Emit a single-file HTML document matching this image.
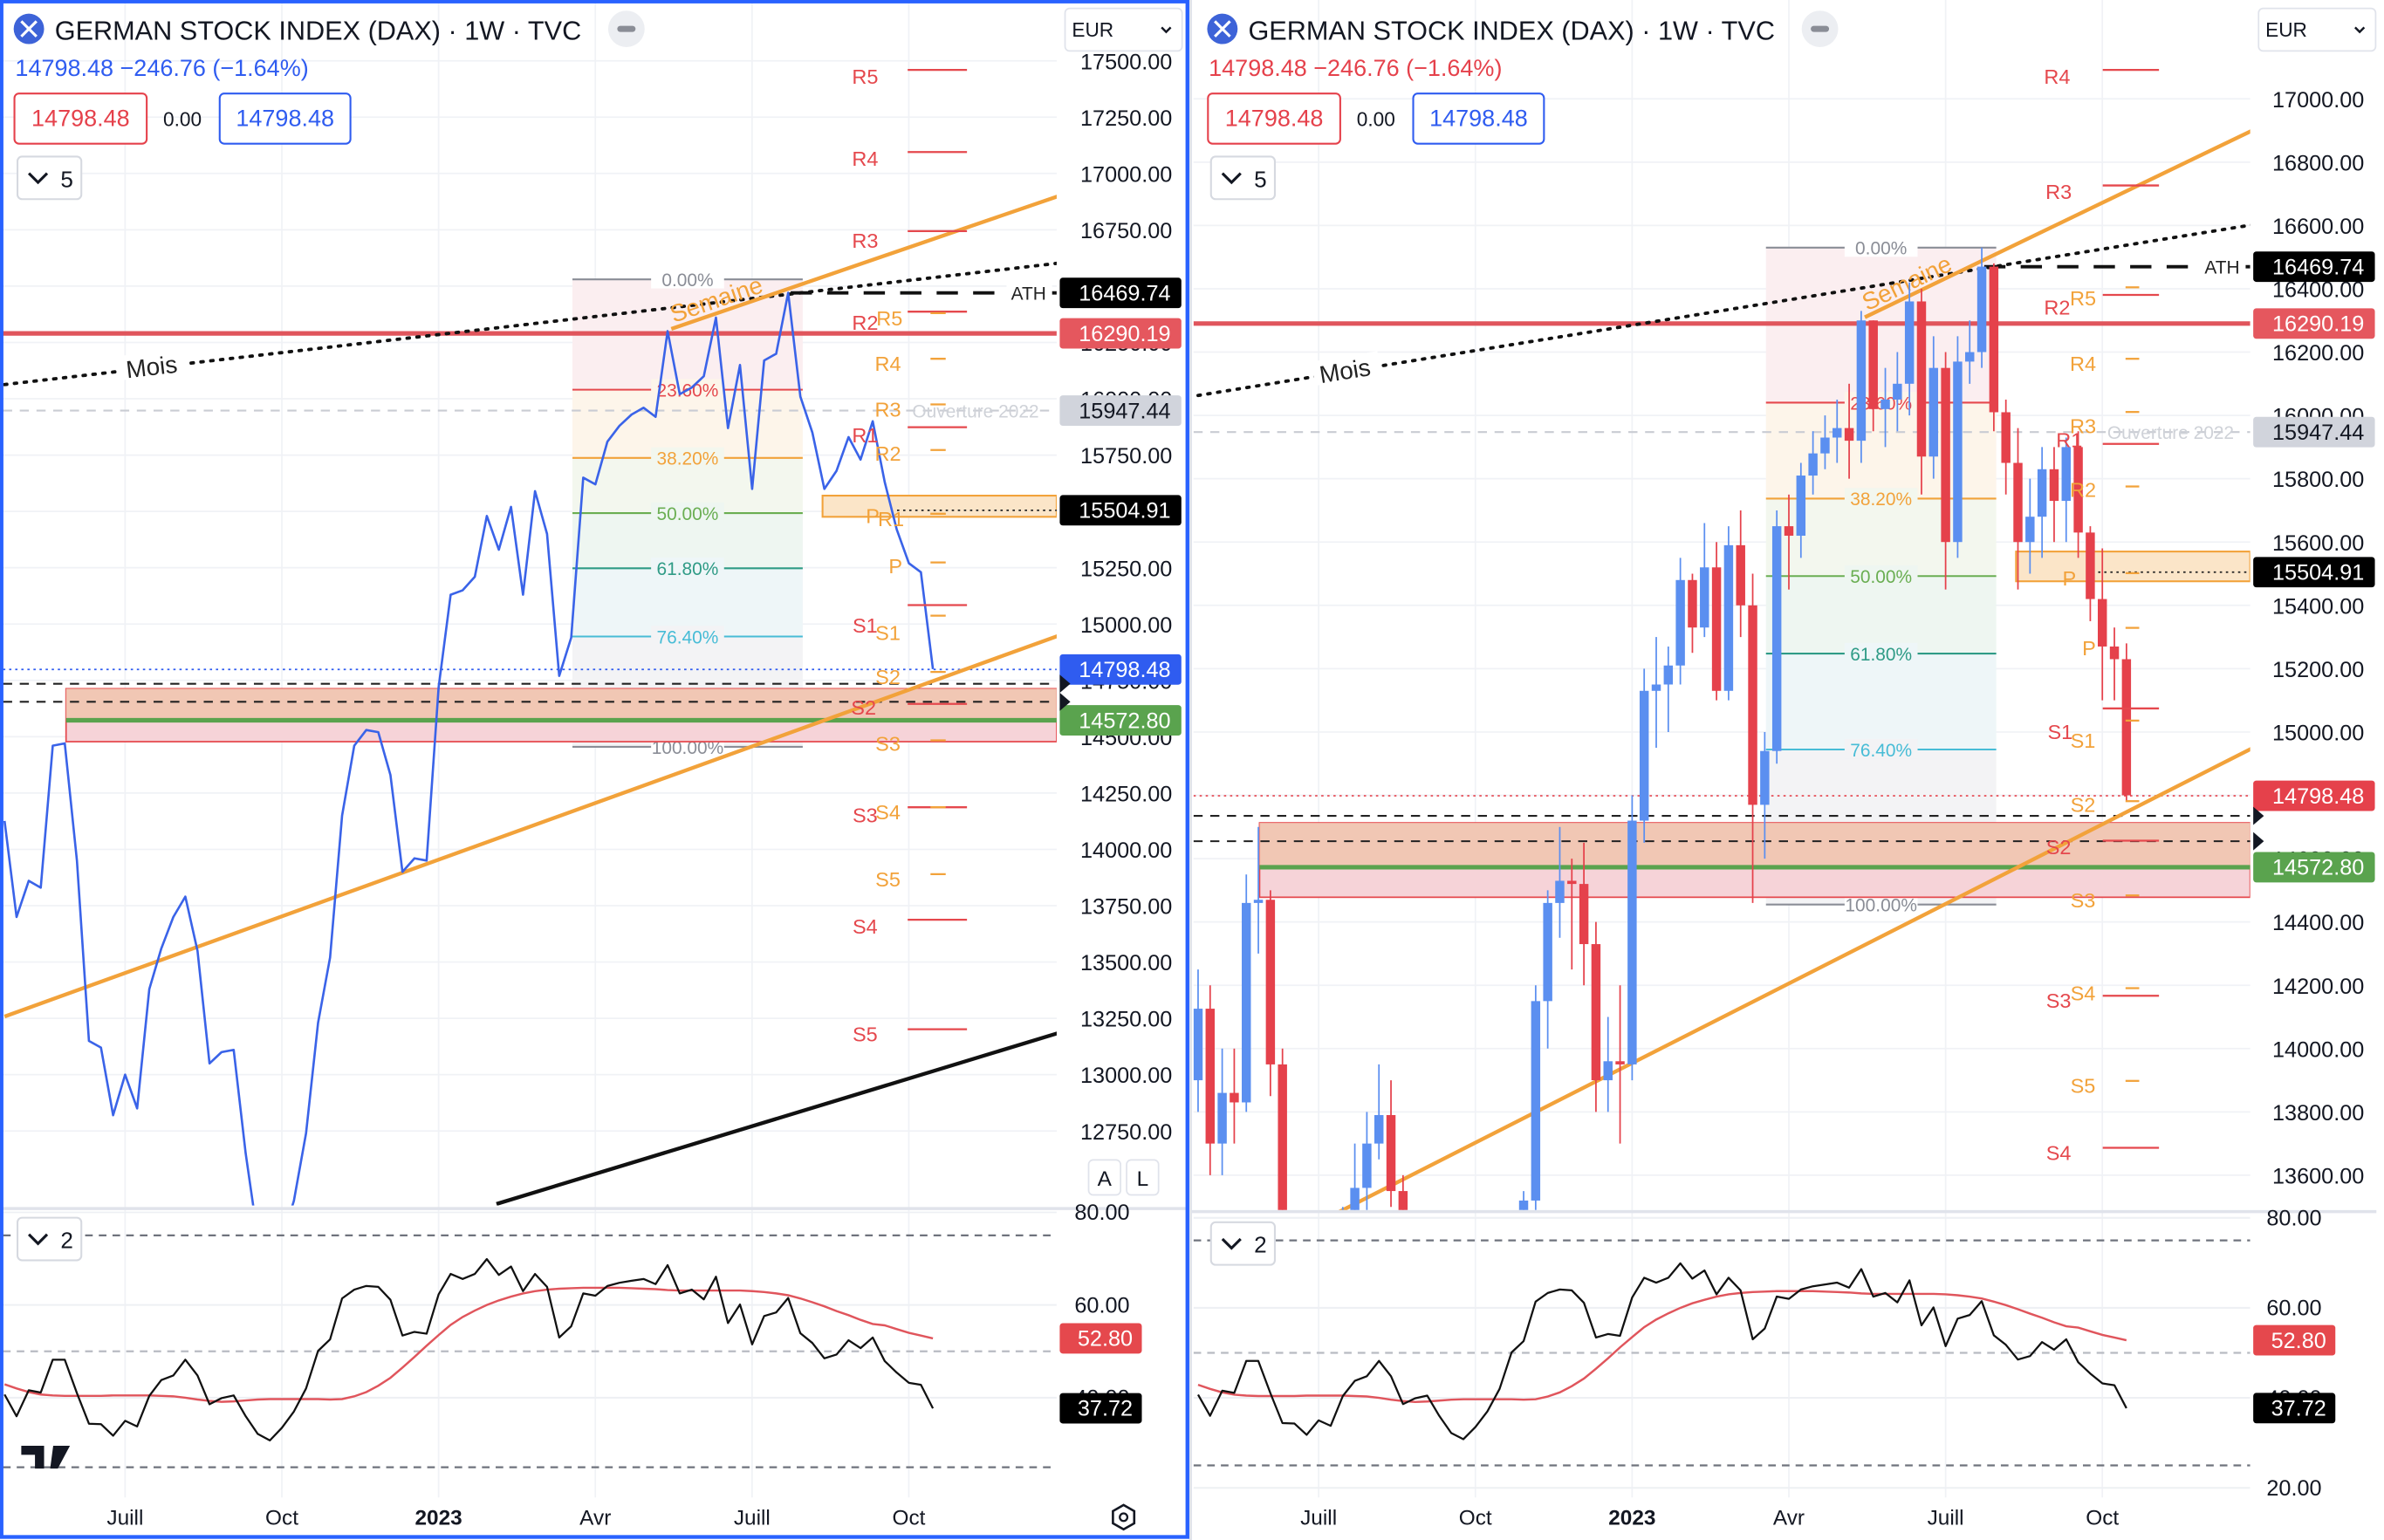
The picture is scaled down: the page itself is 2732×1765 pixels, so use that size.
<!DOCTYPE html>
<html><head><meta charset="utf-8">
<style>
html,body{margin:0;padding:0;background:#fff;width:2732px;height:1765px;overflow:hidden;}
svg{display:block;font-family:"Liberation Sans",sans-serif;}
</style></head>
<body>
<svg id="root" xmlns="http://www.w3.org/2000/svg" width="2732" height="1765" viewBox="0 0 1568 1013" preserveAspectRatio="none">
<defs>
<clipPath id="clipL"><rect x="2" y="0" width="693" height="793"/></clipPath>
<clipPath id="clipR"><rect x="785" y="0" width="695" height="796"/></clipPath>
<clipPath id="clipLR"><rect x="2" y="797" width="693" height="188"/></clipPath>
<clipPath id="clipRR"><rect x="785" y="800" width="695" height="185"/></clipPath>
</defs>
<rect x="0" y="0" width="1568" height="1013" fill="#ffffff"/>
<g id="layer"></g>
</svg>
<script>
// ---------- data ----------
const closes = [14126,13700,13860,13830,14460,14470,13950,13150,13120,12820,
13000,12850,13380,13560,13700,13790,13550,13050,13100,13110,
12650,12280,12120,12270,12440,12740,13230,13520,14150,14460,
14530,14520,14330,13900,13960,13950,14720,15130,15150,15210,
15480,15330,15520,15130,15590,15400,14770,14940,15650,15620,
15810,15880,15930,15960,15920,16300,16020,16050,16100,16360,
15870,16150,15600,16170,16200,16470,16010,15850,15600,15680,
15830,15730,15900,15630,15420,15270,15230,14800];
const highs = [14250,14200,14000,14000,14550,14700,14500,14000,13300,13200,
13100,13350,13500,13700,13800,13950,13900,13600,13250,13300,
13300,12700,12400,12400,12500,12800,13350,13550,14200,14500,
14700,14600,14650,14400,14100,14200,14800,15200,15300,15270,
15550,15500,15660,15600,15650,15700,15500,15000,15700,15750,
15850,15950,16000,16050,16100,16330,16300,16150,16200,16420,
16400,16250,16200,16250,16300,16530,16480,16050,15960,15800,
15900,15900,15930,15950,15650,15580,15330,15280];
const lows = [13800,13600,13600,13700,13800,14300,13850,13050,12900,12750,
12700,12800,12850,13350,13450,13650,13500,12950,12950,12950,
12600,12150,11900,11900,12100,12350,12650,13150,13450,14000,
14350,14250,14200,13800,13800,13700,13900,14650,14950,15000,
15150,15250,15300,15100,15100,15300,14460,14600,14900,15450,
15550,15750,15830,15850,15800,15850,15950,15900,15950,16000,
15750,15800,15450,15550,16100,16150,15950,15750,15450,15500,
15550,15600,15600,15550,15350,15100,15100,14780];
const firstOpen = 13900;
const rsi = [40.7,36.0,41.6,41.1,48.2,48.2,41.0,34.4,34.3,31.8,
35.0,33.8,40.4,43.8,44.8,48.2,44.8,38.6,39.9,40.5,
36.0,32.2,30.8,33.5,37.0,42.0,50.1,52.6,61.4,63.3,
64.1,63.9,61.1,53.4,54.2,53.8,62.3,66.7,65.6,66.7,
69.9,66.5,68.3,63.0,66.7,63.9,53.0,55.4,62.5,62.0,
64.1,64.8,65.2,65.6,64.5,68.6,62.5,63.3,61.2,66.1,
56.1,60.1,51.5,57.6,58.4,61.5,53.9,51.8,48.5,49.3,
52.4,50.7,53.0,47.9,45.4,43.2,42.8,37.7];
const rsiMa = [42.9,42.0,41.2,40.7,40.5,40.4,40.4,40.4,40.4,40.5,
40.5,40.5,40.5,40.4,40.3,40.0,39.6,39.3,39.1,39.2,
39.4,39.6,39.7,39.7,39.7,39.7,39.7,39.6,39.7,40.3,
41.2,42.6,44.3,46.5,48.8,51.2,53.5,55.7,57.4,58.8,
60.0,61.0,61.8,62.5,63.0,63.3,63.5,63.6,63.7,63.7,
63.7,63.7,63.6,63.5,63.4,63.2,63.1,63.1,63.1,63.1,
63.1,63.1,63.0,62.8,62.5,62.1,61.4,60.6,59.7,58.7,
57.8,56.8,55.9,55.6,54.8,54.0,53.4,52.8];
const leftTicks = [17500,17250,17000,16750,16500,16250,16000,15750,15500,15250,15000,14750,14500,14250,14000,13750,13500,13250,13000,12750];
const rightTicks = [17000,16800,16600,16400,16200,16000,15800,15600,15400,15200,15000,14800,14600,14400,14200,14000,13800,13600];
const leftRsiTicks = [80,60,40];
const rightRsiTicks = [80,60,40,20];
const timeLabels = ["Juill","Oct","2023","Avr","Juill","Oct"];
const timeIdx = [10,23,36,49,62,75];
const fibRatios = [0,0.236,0.382,0.5,0.618,0.764,1];
const fibLabels = ["0.00%","23.60%","38.20%","50.00%","61.80%","76.40%","100.00%"];
const fibHigh = 16530, fibLow = 14455, fibStart = 47.1, fibEnd = 66.2;
const lastPrice = 14798.48, redLevel = 16290.19, athLevel = 16469.74, openLevel = 15947.44, pivotLevel = 15504.91, greenLevel = 14572.80;
const zoneTop = 14713, zoneBottom = 14478, zoneStart = 5.1;
const pivotBoxTop = 15570, pivotBoxBottom = 15476;
const dash1 = 14735, dash2 = 14655;
const moisLine = [[0,16063],[87.6,16603]];
const upperOrange = [[55.3,16310],[87.6,16903]];
const lowerOrange = [[0,13258],[87.6,14952]];
const blackLine = [[40.8,12426],[87.6,13188]];
const rsiLast = 37.72, rsiMaLast = 52.80;

// ---------- helpers ----------
const NS = "http://www.w3.org/2000/svg";
const layer = document.getElementById("layer");
function mk(tag, attrs, parent){
  const e = document.createElementNS(NS, tag);
  for (const k in attrs) e.setAttribute(k, attrs[k]);
  (parent || layer).appendChild(e);
  return e;
}
const fibColors = ["#8a8d96","#e5484d","#f2a23a","#6aae52","#2f9b86","#47bcd6","#8a8d96"];
const fibFills = ["#fbeef0","#fdf5ea","#f3f7ee","#eef6f1","#eef6f8","#f3f3f5"];

function buildChart(cfg){
  const X = i => cfg.x0 + i * 7.93;
  const Y = v => cfg.y0 + (cfg.top - v) / cfg.step * cfg.px;
  const YC = v => Math.max(0, Math.min(cfg.plotBottom, Y(v)));
  const R = v => cfg.r60 + (60 - v) * cfg.rpx;
  const g = mk("g", {});
  
  

  cfg.ticks.forEach(t => {
    const ln = mk("line", {x1: cfg.px0, x2: cfg.px1, y1: Y(t), y2: Y(t), stroke: "#f0f2f6", "stroke-width": 1}, g);
    
    
  });
  timeIdx.forEach(i => {
    const ln = mk("line", {x1: X(i), x2: X(i), y1: 0, y2: 985, stroke: "#f0f2f6", "stroke-width": 1}, g);
    
    
  });

  const pg = mk("g", {"clip-path": "url(#" + cfg.clip + ")"}, g);
  
  

  for (let k = 0; k < fibRatios.length - 1; k++) {
    const ya = Y(fibHigh - (fibHigh - fibLow) * fibRatios[k]);
    const yb = Y(fibHigh - (fibHigh - fibLow) * fibRatios[k+1]);
    const r = mk("rect", {x: X(fibStart), y: ya, width: X(fibEnd) - X(fibStart), height: yb - ya, fill: fibFills[k]}, pg);
    
    
  }
  fibRatios.forEach((f, k) => {
    const y = Y(fibHigh - (fibHigh - fibLow) * f);
    const ln = mk("line", {x1: X(fibStart), x2: X(fibEnd), y1: y, y2: y, stroke: fibColors[k], "stroke-width": 1.2}, pg);
    
    
    const cx = (X(fibStart) + X(fibEnd)) / 2;
    const bg = mk("rect", {x: cx - 24, y: y - 7, width: 48, height: 13, fill: k === 0 || k === 6 ? "#fff" : fibFills[Math.min(k,5)]}, pg);
    
    
    const t = mk("text", {x: cx, y: y + 4.5, "font-size": 12, fill: fibColors[k], "text-anchor": "middle"}, pg);
    t.textContent = fibLabels[k];
    
    
  });

  const zt = Y(zoneTop), zb = Y(zoneBottom), zg = Y(greenLevel);
  const z1 = mk("rect", {x: X(zoneStart), y: zt, width: cfg.px1 - X(zoneStart), height: zb - zt, fill: "#f6d3d8", stroke: "#e5484d", "stroke-width": 1}, pg);
  
  
  const z2 = mk("rect", {x: X(zoneStart), y: zt, width: cfg.px1 - X(zoneStart), height: zg - zt, fill: "#f1c5b0", opacity: 0.9}, pg);
  
  
  const pb = mk("rect", {x: cfg.pbx, y: Y(pivotBoxTop), width: cfg.px1 - cfg.pbx, height: Y(pivotBoxBottom) - Y(pivotBoxTop), fill: "#fbe5c8", stroke: "#f2a23a", "stroke-width": 1.2}, pg);
  
  

  const hl = (v, attrs, name, x1) => {
    const ln = mk("line", Object.assign({x1: x1 === undefined ? cfg.px0 : x1, x2: cfg.px1, y1: Y(v), y2: Y(v)}, attrs), pg);
    
    
  };
  hl(openLevel, {stroke: "#c9ccd3", "stroke-width": 1.2, "stroke-dasharray": "6 5"}, "ouverture-2022-line");
  hl(redLevel, {stroke: "#e0555c", "stroke-width": 3}, "resistance-line");
  hl(greenLevel, {stroke: "#5aa34e", "stroke-width": 3}, "support-line", X(zoneStart));
  hl(dash1, {stroke: "#222", "stroke-width": 1.2, "stroke-dasharray": "6 5"}, "dashed-level-1");
  hl(dash2, {stroke: "#222", "stroke-width": 1.2, "stroke-dasharray": "6 5"}, "dashed-level-2");
  hl(lastPrice, {stroke: cfg.lastColor, "stroke-width": 1, "stroke-dasharray": "1.5 2.5"}, "last-price-line");
  hl(pivotLevel, {stroke: "#222", "stroke-width": 1, "stroke-dasharray": "1.5 2.5"}, "pivot-dotted-line", cfg.pdx);
  hl(athLevel, {stroke: "#111", "stroke-width": 2.2, "stroke-dasharray": "14 10"}, "ath-line", X(65.2));
  const athBg = mk("rect", {x: cfg.px1 - 33, y: Y(athLevel) - 7, width: 30, height: 14, fill: "#fff"}, pg);
  
  
  const ath = mk("text", {x: cfg.px1 - 30, y: Y(athLevel) + 4.5, "font-size": 12, fill: "#222"}, pg);
  ath.textContent = "ATH";
  
  
  const ov = mk("text", {x: cfg.ovx, y: Y(openLevel) + 4.5, "font-size": 12, fill: "#cfd2d8"}, pg);
  ov.textContent = "Ouverture 2022";
  
  

  const tl = (pts, attrs, name) => {
    const ln = mk("line", Object.assign({x1: X(pts[0][0]), y1: Y(pts[0][1]), x2: X(pts[1][0]), y2: Y(pts[1][1])}, attrs), pg);
    
    
  };
  tl(moisLine, {stroke: "#111", "stroke-width": 2.2, "stroke-dasharray": "1.5 5", "stroke-linecap": "round"}, "mois-trendline");
  tl(upperOrange, {stroke: "#f2a23a", "stroke-width": 2.5}, "semaine-upper-trendline");
  tl(lowerOrange, {stroke: "#f2a23a", "stroke-width": 2.5}, "semaine-lower-trendline");
  tl(blackLine, {stroke: "#111", "stroke-width": 2.5}, "long-term-trendline");
  const ang = Math.atan2(Y(moisLine[1][1]) - Y(moisLine[0][1]), X(moisLine[1][0]) - X(moisLine[0][0])) * 180 / Math.PI;
  const mx = cfg.x0 + 80, my = Y(moisLine[0][1] + (moisLine[1][1]-moisLine[0][1]) * (80/7.93)/87.6);
  const mbg = mk("rect", {x: mx - 4, y: my - 10, width: 44, height: 16, fill: "#fff", transform: `rotate(${ang} ${mx} ${my})`}, pg);
  
  
  const mt = mk("text", {x: mx, y: my + 5, "font-size": 16, fill: "#222", transform: `rotate(${ang} ${mx} ${my})`}, pg);
  mt.textContent = "Mois";
  
  
  const ang2 = Math.atan2(Y(upperOrange[1][1]) - Y(upperOrange[0][1]), X(upperOrange[1][0]) - X(upperOrange[0][0])) * 180 / Math.PI;
  const sx = X(55.5), sy = Y(upperOrange[0][1]) - 4;
  const st = mk("text", {x: sx, y: sy, "font-size": 16, fill: "#f2a23a", transform: `rotate(${ang2} ${sx} ${sy})`}, pg);
  st.textContent = "Semaine";
  
  

  if (cfg.type === "line") {
    let d = "";
    closes.forEach((c, i) => { d += (i ? "L" : "M") + X(i).toFixed(1) + " " + Y(c).toFixed(1); });
    const p = mk("path", {d: d, fill: "none", stroke: "#3a63e8", "stroke-width": 1.5, "stroke-linejoin": "round"}, pg);
    
    
  } else {
    closes.forEach((c, i) => {
      const o = i ? closes[i-1] : firstOpen;
      const col = c >= o ? "#5b8ff0" : "#e5414b";
      const w = mk("line", {x1: X(i), x2: X(i), y1: YC(highs[i]), y2: YC(lows[i]), stroke: col, "stroke-width": 1}, pg);
      
      
      const yt = YC(Math.max(o, c)), yb = YC(Math.min(o, c));
      const b = mk("rect", {x: X(i) - 3, y: yt, width: 6, height: Math.max(1, yb - yt), fill: col}, pg);
      
      
    });
  }

  cfg.pivots.forEach(p => {
    const ln = mk("line", {x1: p[3], x2: p[4], y1: p[5], y2: p[5], stroke: p[6], "stroke-width": 1.3}, g);
    
    
    const t = mk("text", {x: p[1], y: p[2], "font-size": 13.5, fill: p[6], "text-anchor": "middle"}, g);
    t.textContent = p[0];
    
    
  });

  cfg.ticks.forEach(t => {
    const tx = mk("text", {x: cfg.axisX, y: Y(t) + 5.5, "font-size": 14.5, fill: "#131722", "text-anchor": "end"}, g);
    tx.textContent = t.toFixed(2);
    
    
  });
  const tag = (v, text, fill, color, name) => {
    const y = Y(v);
    const r = mk("rect", {x: cfg.tagX, y: y - 10, width: 80, height: 20, rx: 2, fill: fill}, g);
    
    
    const t = mk("text", {x: cfg.tagX + 73, y: y + 5, "font-size": 14.5, fill: color, "text-anchor": "end"}, g);
    t.textContent = text;
    
    
  };
  tag(athLevel, "16469.74", "#000", "#fff", "ath-price-tag");
  tag(redLevel, "16290.19", "#e5575e", "#fff", "resistance-price-tag");
  tag(openLevel, "15947.44", "#d1d4dc", "#131722", "ouverture-price-tag");
  tag(pivotLevel, "15504.91", "#000", "#fff", "pivot-price-tag");
  tag(lastPrice, "14798.48", cfg.lastColor, "#fff", "last-price-tag");
  tag(greenLevel, "14572.80", "#5aa34e", "#fff", "support-price-tag");
  [dash1, dash2].forEach(v => {
    const a = mk("path", {d: `M${cfg.px1+2} ${Y(v)-6} L${cfg.px1+9} ${Y(v)} L${cfg.px1+2} ${Y(v)+6}Z`, fill: "#131722"}, g);
    
    
  });

  const dv = mk("line", {x1: cfg.px0 - 2, x2: cfg.px0 + 778, y1: cfg.div, y2: cfg.div, stroke: "#e0e3eb", "stroke-width": 2}, g);
  
  

  const rg = mk("g", {"clip-path": "url(#" + cfg.rclip + ")"}, g);
  
  
  cfg.rticks.forEach(t => {
    const ln = mk("line", {x1: cfg.px0, x2: cfg.px1, y1: R(t), y2: R(t), stroke: "#eef0f4", "stroke-width": 1.2}, rg);
    
    
  });
  [75, 50, 25].forEach(b => {
    const ln = mk("line", {x1: cfg.px0, x2: cfg.px1, y1: R(b), y2: R(b), stroke: b === 50 ? "#b8bbc2" : "#6f737d", "stroke-width": 1.3, "stroke-dasharray": "5 4"}, rg);
    
    
  });
  let dm = "", dr = "";
  rsiMa.forEach((v, i) => { dm += (i ? "L" : "M") + X(i).toFixed(1) + " " + R(v).toFixed(1); });
  rsi.forEach((v, i) => { dr += (i ? "L" : "M") + X(i).toFixed(1) + " " + R(v).toFixed(1); });
  const pm = mk("path", {d: dm, fill: "none", stroke: "#e0555c", "stroke-width": 1.4}, rg);
  
  
  const pr = mk("path", {d: dr, fill: "none", stroke: "#111", "stroke-width": 1.3, "stroke-linejoin": "round"}, rg);
  
  
  cfg.rticks.forEach(t => {
    const tx = mk("text", {x: cfg.axisX - 28, y: R(t) + 5, "font-size": 14.5, fill: "#131722", "text-anchor": "end"}, g);
    tx.textContent = t.toFixed(2);
    
    
  });
  [[rsiMaLast, "#e5484d", "rsi-ma-value-tag"], [rsiLast, "#000", "rsi-value-tag"]].forEach(q => {
    const y = R(q[0]);
    const r = mk("rect", {x: cfg.tagX, y: y - 10, width: 54, height: 20, rx: 2, fill: q[1]}, g);
    
    
    const t = mk("text", {x: cfg.tagX + 48, y: y + 5, "font-size": 14.5, fill: "#fff", "text-anchor": "end"}, g);
    t.textContent = q[0].toFixed(2);
    
    
  });

  timeLabels.forEach((s, k) => {
    const t = mk("text", {x: X(timeIdx[k]), y: 1003, "font-size": 14, fill: "#131722", "text-anchor": "middle", "font-weight": s === "2023" ? "bold" : "normal"}, g);
    t.textContent = s;
    
    
  });
}

buildChart({name: "left-chart", type: "line", x0: 3, y0: 40, top: 17500, step: 250, px: 37.05, plotBottom: 793,
  r60: 858.4, rpx: 3.05, px0: 2, px1: 695, clip: "clipL", rclip: "clipLR", ticks: leftTicks, rticks: leftRsiTicks,
  axisX: 771, tagX: 697, lastColor: "#2f5cf0", pbx: 541, pdx: 590, ovx: 600, div: 795,
  pivots: [["R5",569,55,597,636,46,"#e5484d"],["R4",569,109,597,636,100,"#e5484d"],["R3",569,163,597,636,152,"#e5484d"],
    ["R2",569,217,597,636,205,"#e5484d"],["R1",569,291,597,636,281,"#e5484d"],["S1",569,416,597,636,398,"#e5484d"],
    ["S2",568,470,597,636,463,"#e5484d"],["S3",569,541,597,636,531,"#e5484d"],["S4",569,614,597,636,605,"#e5484d"],["S5",569,685,597,636,677,"#e5484d"],
    ["R5",585,214,612,622,206,"#f2a23a"],["R4",584,244,612,622,236,"#f2a23a"],["R3",584,274,612,622,266,"#f2a23a"],
    ["R2",584,303,612,622,296,"#f2a23a"],["P",574,344,612,622,338,"#f2a23a"],["R1",586,346,612,622,338,"#f2a23a"],["P",589,377,612,622,370,"#f2a23a"],
    ["S1",584,421,612,622,405,"#f2a23a"],["S2",584,450,612,622,442,"#f2a23a"],["S3",584,494,612,622,487,"#f2a23a"],
    ["S4",584,539,612,622,531,"#f2a23a"],["S5",584,583,612,622,575,"#f2a23a"]]});

buildChart({name: "right-chart", type: "candle", x0: 788, y0: 65, top: 17000, step: 200, px: 41.65, plotBottom: 796,
  r60: 860.3, rpx: 2.96, px0: 785, px1: 1480, clip: "clipR", rclip: "clipRR", ticks: rightTicks, rticks: rightRsiTicks,
  axisX: 1555, tagX: 1482, lastColor: "#e5414b", pbx: 1326, pdx: 1380, ovx: 1386, div: 797,
  pivots: [["R4",1353,55,1383,1420,46,"#e5484d"],["R3",1354,131,1383,1420,122,"#e5484d"],["R2",1353,207,1383,1420,194,"#e5484d"],
    ["R1",1361,294,1383,1420,292,"#e5484d"],["S1",1355,486,1383,1420,466,"#e5484d"],["S2",1354,562,1383,1420,553,"#e5484d"],
    ["S3",1354,663,1383,1420,655,"#e5484d"],["S4",1354,763,1383,1420,755,"#e5484d"],
    ["R5",1370,201,1398,1407,189,"#f2a23a"],["R4",1370,244,1398,1407,236,"#f2a23a"],["R3",1370,285,1398,1407,271,"#f2a23a"],
    ["R2",1370,327,1398,1407,320,"#f2a23a"],["P",1361,385,1398,1407,377,"#f2a23a"],["P",1374,431,1398,1407,413,"#f2a23a"],
    ["S1",1370,492,1398,1407,474,"#f2a23a"],["S2",1370,534,1398,1407,527,"#f2a23a"],["S3",1370,597,1398,1407,589,"#f2a23a"],
    ["S4",1370,658,1398,1407,650,"#f2a23a"],["S5",1370,719,1398,1407,711,"#f2a23a"]]});

function header(ox, priceColor, pfx){
  const g = mk("g", {});
  
  
  const ic = mk("circle", {cx: ox + 19, cy: 19, r: 10, fill: "#3d63d8"}, g);
  
  
  const ix = mk("path", {d: `M${ox+14} 14 L${ox+24} 24 M${ox+24} 14 L${ox+14} 24`, stroke: "#fff", "stroke-width": 1.8}, g);
  
  
  const tt = mk("text", {x: ox + 36, y: 26, "font-size": 17.6, fill: "#131722"}, g);
  tt.textContent = "GERMAN STOCK INDEX (DAX) · 1W · TVC";
  
  
  const mb = mk("circle", {cx: ox + 412, cy: 19, r: 12, fill: "#eceef2"}, g);
  
  
  const mm = mk("rect", {x: ox + 406, y: 17, width: 12, height: 4, rx: 2, fill: "#8a8d96"}, g);
  
  
  const pt = mk("text", {x: ox + 10, y: 50, "font-size": 15.5, fill: priceColor}, g);
  pt.textContent = "14798.48  −246.76  (−1.64%)";
  
  
  const b1 = mk("rect", {x: ox + 9.5, y: 61.5, width: 87, height: 33, rx: 3, fill: "#fff", stroke: "#e5414b", "stroke-width": 1.2}, g);
  
  
  const t1 = mk("text", {x: ox + 53, y: 83, "font-size": 15.5, fill: "#e5414b", "text-anchor": "middle"}, g);
  t1.textContent = "14798.48";
  
  
  const t0 = mk("text", {x: ox + 120, y: 83, "font-size": 13, fill: "#131722", "text-anchor": "middle"}, g);
  t0.textContent = "0.00";
  
  
  const b2 = mk("rect", {x: ox + 144.5, y: 61.5, width: 86, height: 33, rx: 3, fill: "#fff", stroke: "#2f5cf0", "stroke-width": 1.2}, g);
  
  
  const t2 = mk("text", {x: ox + 187.5, y: 83, "font-size": 15.5, fill: "#2f5cf0", "text-anchor": "middle"}, g);
  t2.textContent = "14798.48";
  
  
  [[103, 5, 'indicators-toggle'], [801 + (pfx === 'right' ? 3 : 0), 2, 'rsi-toggle']].forEach(q => {
    const r = mk("rect", {x: ox + 11.5, y: q[0], width: 42, height: 28, rx: 3, fill: "#fff", stroke: "#d6d9e0", "stroke-width": 1.2}, g);
    
    
    const c = mk("path", {d: `M${ox+19} ${q[0]+11} L${ox+25} ${q[0]+17} L${ox+31} ${q[0]+11}`, fill: "none", stroke: "#131722", "stroke-width": 1.8}, g);
    
    
    const n = mk("text", {x: ox + 44, y: q[0] + 20, "font-size": 15, fill: "#131722", "text-anchor": "middle"}, g);
    n.textContent = String(q[1]);
    
    
  });
  const eb = mk("rect", {x: ox + 700.5, y: 5.5, width: 77, height: 28, rx: 3, fill: "#fff", stroke: "#e0e3eb", "stroke-width": 1}, g);
  
  
  const et = mk("text", {x: ox + 705, y: 24, "font-size": 13, fill: "#131722"}, g);
  et.textContent = "EUR";
  
  
  const ec = mk("path", {d: `M${ox+764} 18 L${ox+767} 21 L${ox+770} 18`, fill: "none", stroke: "#131722", "stroke-width": 1.4}, g);
  
  
}
header(0, "#2f5cf0", "left");
header(785, "#e5414b", "right");

[["A", 716], ["L", 741]].forEach(q => {
  const r = mk("rect", {x: q[1], y: 763, width: 21, height: 23, rx: 3, fill: "#fff", stroke: "#e0e3eb"});
  
  
  const t = mk("text", {x: q[1] + 10.5, y: 780, "font-size": 14, fill: "#131722", "text-anchor": "middle"});
  t.textContent = q[0];
  
  
});
const logo = mk("path", {d: "M14 951 H29 V966 H23 V957 H14 Z M35 951 H46 L38 966 H33 Z", fill: "#131722"});


const gear = mk("path", {d: "M739 990 L746 994 L746 1002 L739 1006 L732 1002 L732 994 Z", fill: "none", stroke: "#131722", "stroke-width": 1.5});


const gc = mk("circle", {cx: 739, cy: 998, r: 2.5, fill: "none", stroke: "#131722", "stroke-width": 1.3});


const sep = mk("line", {x1: 783, x2: 783, y1: 0, y2: 1013, stroke: "#e0e3eb", "stroke-width": 2});


const bord = mk("rect", {x: 1, y: 1, width: 780, height: 1010, fill: "none", stroke: "#2962ff", "stroke-width": 2.5});


</script>
</body></html>
